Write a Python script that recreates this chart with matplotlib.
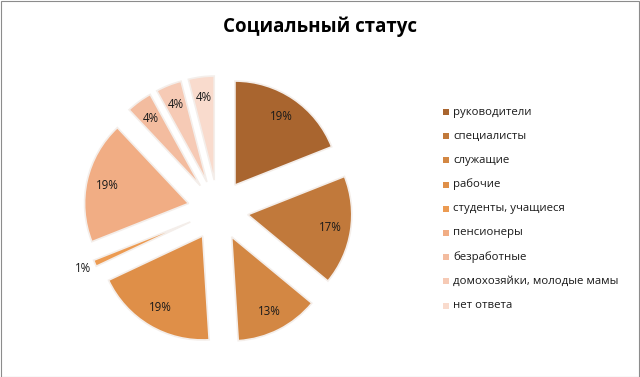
import matplotlib
matplotlib.use("Agg")
import numpy as np
import matplotlib.pyplot as plt
from matplotlib.patches import Rectangle

plt.rcParams['font.family'] = ['Open Sans', 'DejaVu Sans']

title = "Социальный статус"
categories = ["руководители", "специалисты", "служащие", "рабочие",
              "студенты, учащиеся", "пенсионеры", "безработные",
              "домохозяйки, молодые мамы", "нет ответа"]
values = [19, 17, 13, 19, 1, 19, 4, 4, 4]
colors = ["#A9652F", "#C1793B", "#D38743", "#DF8F48", "#EC9B52",
          "#F1AD84", "#F3BC9F", "#F6CAB5", "#F9DBCD"]

W, H = 640, 377
fig = plt.figure(figsize=(W / 100, H / 100), dpi=100)
fig.patch.set_facecolor("white")
fig.patches.append(Rectangle((0.5 / W, 0.5 / H), 1 - 1.5 / W, 1 - 1.5 / H,
                             transform=fig.transFigure, fill=False,
                             edgecolor="#8C8C8C", linewidth=0.8))

# pie axes: center (218, 210 from top), radius 104 px
cx, cy, r = 218, H - 210, 104
half = 1.6 * r
ax = fig.add_axes([(cx - half) / W, (cy - half) / H, 2 * half / W, 2 * half / H])
wedges, texts, autotexts = ax.pie(
    values, colors=colors, startangle=90, counterclock=False,
    explode=[0.29] * len(values), radius=1.0,
    autopct=lambda p: f"{p:.0f}%", pctdistance=0.8,
    wedgeprops=dict(edgecolor="#F4EEEA", linewidth=1.2),
    textprops=dict(fontsize=8.3, color="#1a1a1a"))
ax.set_xlim(-1.6, 1.6)
ax.set_ylim(-1.6, 1.6)
ax.set_aspect("equal")
ax.axis("off")

# small slice label outside
for w, t, v in zip(wedges, autotexts, values):
    if v < 2:
        ang = np.deg2rad((w.theta1 + w.theta2) / 2)
        x0, y0 = w.center
        t.set_position((x0 + 1.12 * np.cos(ang), y0 + 1.12 * np.sin(ang)))

fig.text(320 / W, 1 - 27 / H, title, ha="center", va="center",
         fontsize=13.5, fontweight="bold", color="black")

# legend
y0 = 112
dy = 24.2
for i, (c, lab) in enumerate(zip(colors, categories)):
    yy = H - (y0 + i * dy)
    fig.patches.append(Rectangle((443 / W, (yy - 3) / H), 6 / W, 6 / H,
                                 transform=fig.transFigure, facecolor=c,
                                 edgecolor="none"))
    fig.text(453 / W, yy / H, lab, ha="left", va="center", fontsize=8.2,
             color="#1a1a1a")

fig.savefig("out.png", dpi=100)
